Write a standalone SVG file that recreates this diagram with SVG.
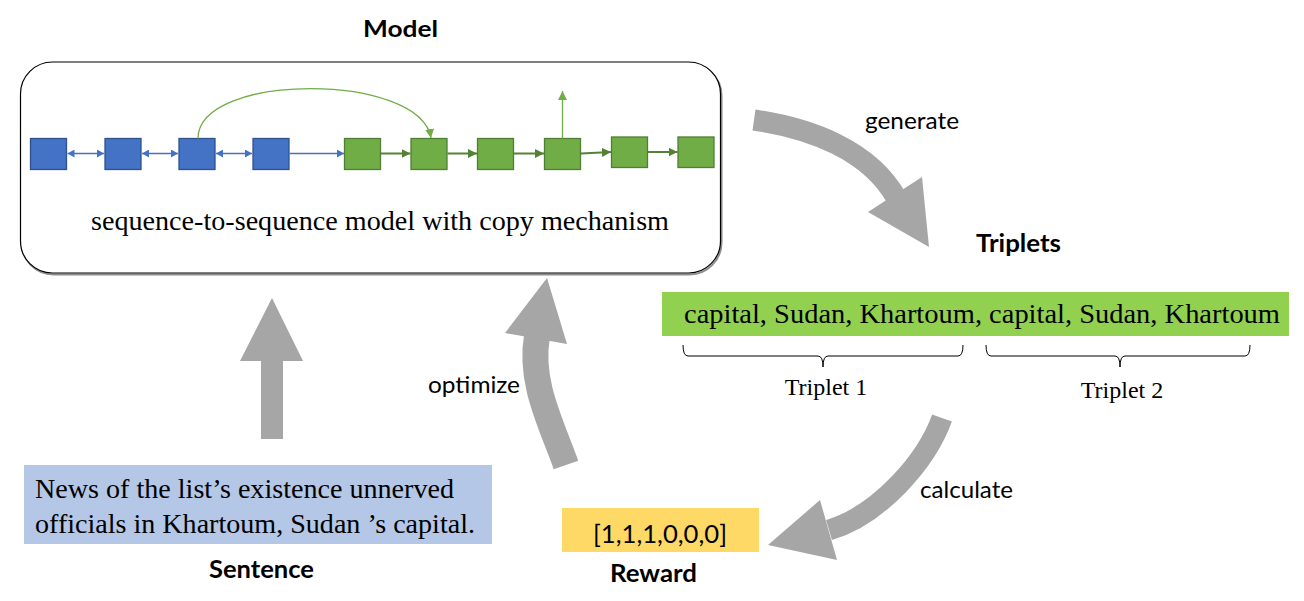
<svg xmlns="http://www.w3.org/2000/svg" width="1304" height="601" viewBox="0 0 1304 601">
<style>
.serif{font-family:"Liberation Serif","Times New Roman",serif;fill:#000}
.sans{font-family:Lato,"Open Sans","Liberation Sans",sans-serif;fill:#000}
.bold{font-weight:bold}
.bsq{fill:#4472C4;stroke:#2F528F;stroke-width:1.3}
.gsq{fill:#70AD47;stroke:#507E32;stroke-width:1.3}
.bcon{fill:none;stroke:#4472C4;stroke-width:1.3}
.gcon{fill:none;stroke:#548235;stroke-width:2}
.lgcon{fill:none;stroke:#70AD47;stroke-width:1.3}
.big{fill:none;stroke:#A6A6A6;stroke-linecap:butt}
.head{fill:#A6A6A6}
.brace{fill:none;stroke:#000;stroke-width:1}
</style>
<defs>
<marker id="bEnd" markerUnits="userSpaceOnUse" markerWidth="10" markerHeight="10" refX="7" refY="4" orient="auto"><path d="M0,0 L7,4 L0,8 Z" fill="#4472C4"/></marker>
<marker id="bStart" markerUnits="userSpaceOnUse" markerWidth="10" markerHeight="10" refX="0" refY="4" orient="auto"><path d="M7,0 L0,4 L7,8 Z" fill="#4472C4"/></marker>
<marker id="gEnd" markerUnits="userSpaceOnUse" markerWidth="12" markerHeight="12" refX="9" refY="4.5" orient="auto"><path d="M0,0 L9,4.5 L0,9 Z" fill="#548235"/></marker>
<marker id="lgEnd" markerUnits="userSpaceOnUse" markerWidth="12" markerHeight="12" refX="9" refY="4.5" orient="auto"><path d="M0,0 L9,4.5 L0,9 Z" fill="#70AD47"/></marker>
</defs>

<g id="model">
<rect x="21.5" y="63.5" width="700" height="211" rx="32" ry="32" fill="none" stroke="#8C8C8C" stroke-width="2"/>
<rect x="20.5" y="62" width="700" height="211" rx="32" ry="32" fill="#FFFFFF" stroke="#000" stroke-width="1.2"/>
<text class="sans bold" x="400.5" y="37" font-size="23" text-anchor="middle" textLength="75" lengthAdjust="spacingAndGlyphs">Model</text>
<text class="serif" x="380" y="230" font-size="28" text-anchor="middle" textLength="578" lengthAdjust="spacingAndGlyphs">sequence-to-sequence model with copy mechanism</text>
</g>

<g id="encoder">
<rect class="bsq" x="30.5" y="138.5" width="36" height="31"/>
<rect class="bsq" x="105" y="138.5" width="36" height="31"/>
<rect class="bsq" x="179" y="138.5" width="36" height="31"/>
<rect class="bsq" x="253" y="138.5" width="36" height="31"/>
</g>

<g id="decoder">
<rect class="gsq" x="344.5" y="138.5" width="36" height="31"/>
<rect class="gsq" x="411" y="138.5" width="36" height="31"/>
<rect class="gsq" x="477.5" y="138.5" width="36" height="31"/>
<rect class="gsq" x="544.5" y="138.5" width="36" height="31"/>
<rect class="gsq" x="611.5" y="137" width="36" height="30.5"/>
<rect class="gsq" x="678" y="137" width="36" height="30.5"/>
</g>

<g id="connectors">
<line class="bcon" x1="67.5" y1="153.5" x2="104" y2="153.5" marker-start="url(#bStart)" marker-end="url(#bEnd)"/>
<line class="bcon" x1="142" y1="153.5" x2="178" y2="153.5" marker-start="url(#bStart)" marker-end="url(#bEnd)"/>
<line class="bcon" x1="216" y1="153.5" x2="252" y2="153.5" marker-start="url(#bStart)" marker-end="url(#bEnd)"/>
<line class="bcon" x1="289.5" y1="153.5" x2="344" y2="153.5" marker-end="url(#bEnd)"/>
<line class="gcon" x1="381" y1="153.5" x2="410.5" y2="153.5" marker-end="url(#gEnd)"/>
<line class="gcon" x1="447.5" y1="153.5" x2="477" y2="153.5" marker-end="url(#gEnd)"/>
<line class="gcon" x1="514" y1="153.5" x2="544" y2="153.5" marker-end="url(#gEnd)"/>
<line class="gcon" x1="581" y1="153.5" x2="611" y2="152" marker-end="url(#gEnd)"/>
<line class="gcon" x1="648" y1="152" x2="677.5" y2="152" marker-end="url(#gEnd)"/>
<path class="lgcon" d="M198,138.5 C198,72 420,72 431,138" marker-end="url(#lgEnd)"/>
<line class="lgcon" x1="562.5" y1="138.5" x2="562.5" y2="91" marker-end="url(#lgEnd)"/>

<g id="arrow-input">
<path class="head" d="M261,439 L261,361 L240,361 L272,298 L303,361 L283,361 L283,439 Z"/>
</g>
<g id="arrow-generate">
<path class="big" stroke-width="21" d="M754,120 C810,128 870,150 897,199"/>
<path class="head" d="M868,212 L922,177 L929,247 Z"/>
</g>
<g id="arrow-calculate">
<path class="big" stroke-width="21" d="M942,418 C927,460 880,515 829,530"/>
<path class="head" d="M820,500 L837,560 L768,545 Z"/>
</g>
<g id="arrow-optimize">
<path class="big" stroke-width="26" d="M566,465 C551,423 529,382 537,336"/>
<path class="head" d="M505,333 L567,344 L547,278 Z"/>
</g>
</g>

<g id="labels">
<text class="sans" x="865" y="129" font-size="24" textLength="94" lengthAdjust="spacingAndGlyphs">generate</text>
<text class="sans" x="428" y="393" font-size="24" textLength="92" lengthAdjust="spacingAndGlyphs">optimize</text>
<text class="sans" x="920" y="498" font-size="24" textLength="93" lengthAdjust="spacingAndGlyphs">calculate</text>
</g>

<g id="triplets">
<text class="sans bold" x="976" y="252" font-size="24" textLength="85" lengthAdjust="spacingAndGlyphs">Triplets</text>
<rect x="662" y="292" width="627" height="44" fill="#92D050"/>
<text class="serif" x="684" y="323" font-size="28" textLength="596" lengthAdjust="spacingAndGlyphs">capital, Sudan, Khartoum, capital, Sudan, Khartoum</text>
<path class="brace" d="M683,345 Q683,356 688,356 L818,356 Q823,356 823,367 Q823,356 828,356 L958,356 Q963,356 963,345"/>
<path class="brace" d="M986,345 Q986,356 991,356 L1115,356 Q1120,356 1120,367 Q1120,356 1125,356 L1245,356 Q1250,356 1250,345"/>
<text class="serif" x="826" y="395" font-size="24" text-anchor="middle">Triplet 1</text>
<text class="serif" x="1122" y="398" font-size="24" text-anchor="middle">Triplet 2</text>
</g>

<g id="sentence">
<rect x="24" y="465" width="468" height="79" fill="#B4C7E7"/>
<text class="serif" x="35" y="498" font-size="28" textLength="419" lengthAdjust="spacingAndGlyphs">News of the list’s existence unnerved</text>
<text class="serif" x="35" y="533" font-size="28" textLength="440" lengthAdjust="spacingAndGlyphs">officials in Khartoum, Sudan ’s capital.</text>
<text class="sans bold" x="261.5" y="578" font-size="24" text-anchor="middle" textLength="105" lengthAdjust="spacingAndGlyphs">Sentence</text>
</g>

<g id="reward">
<rect x="562" y="508" width="197" height="44" fill="#FFD966"/>
<text class="sans" x="593" y="543" font-size="25" textLength="134" lengthAdjust="spacingAndGlyphs">[1,1,1,0,0,0]</text>
<text class="sans bold" x="653.5" y="582" font-size="24" text-anchor="middle" textLength="87" lengthAdjust="spacingAndGlyphs">Reward</text>
</g>
</svg>
